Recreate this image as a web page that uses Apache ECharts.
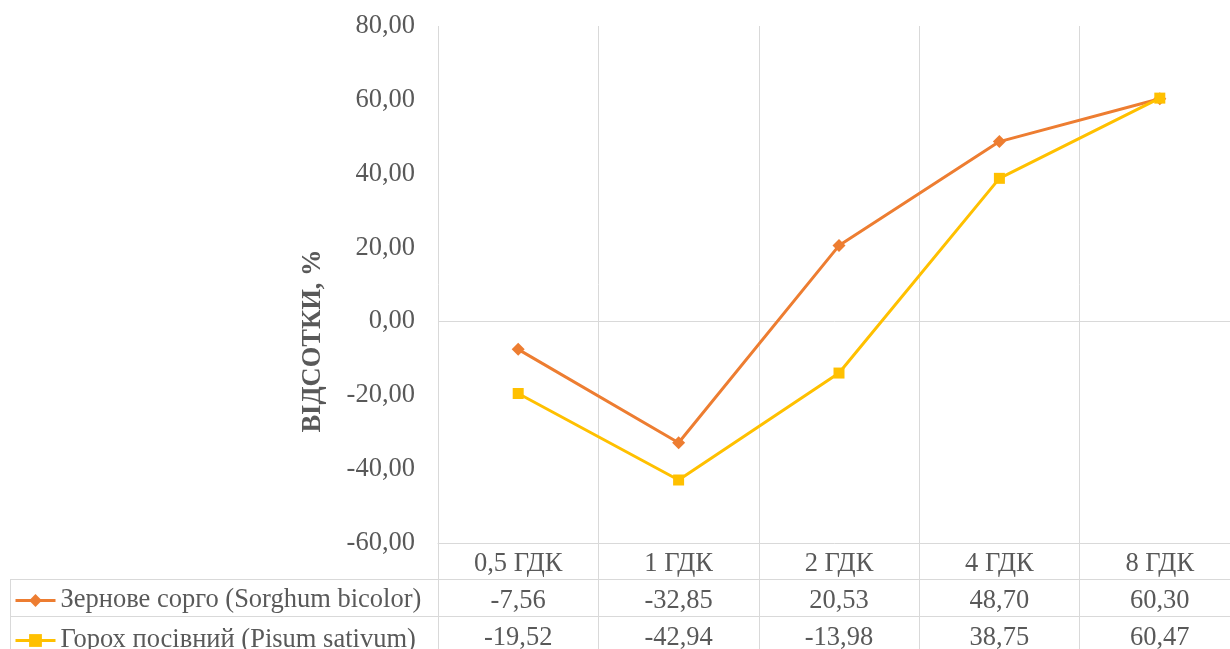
<!DOCTYPE html>
<html>
<head>
<meta charset="utf-8">
<script src="https://cdn.jsdelivr.net/npm/echarts@6/dist/echarts.min.js"></script>
<style>
html,body{margin:0;padding:0;background:#fff;}
#chart{width:1230px;height:649px;}
</style>
</head>
<body>
<div id="chart"></div>
<script>
const categories = ['0,5 ГДК', '1 ГДК', '2 ГДК', '4 ГДК', '8 ГДК'];
const sorghumName = 'Зернове сорго (Sorghum bicolor)';
const peaName = 'Горох посівний (Pisum sativum)';
const sorghumValues = [-7.56, -32.85, 20.53, 48.70, 60.30];
const peaValues = [-19.52, -42.94, -13.98, 38.75, 60.47];
const yAxisTitle = 'ВІДСОТКИ, %';

const FONT = '"Liberation Serif", "Times New Roman", serif';
const FS = 26.5;
const TXT = '#595959';
const GRID = '#D9D9D9';
const fmt = v => v.toFixed(2).replace('.', ',');

const chart = echarts.init(document.getElementById('chart'), null, {renderer: 'canvas'});
chart.setOption({
  animation: false,
  backgroundColor: '#fff',
  textStyle: {fontFamily: FONT},
  grid: [
    {left: 438, top: 26, width: 802, height: 517, containLabel: false, outerBoundsMode: 'none'},
    {left: 438, top: 543, width: 802, height: 120, containLabel: false, outerBoundsMode: 'none'}
  ],
  legend: {
    orient: 'vertical',
    left: 9,
    top: 582,
    height: 300,
    itemWidth: 40,
    itemHeight: 16,
    itemGap: 13,
    lineStyle: {width: 3},
    data: [sorghumName, peaName],
    textStyle: {fontFamily: FONT, fontSize: FS, color: TXT, lineHeight: 24}
  },
  xAxis: [
    {
      type: 'category',
      gridIndex: 0,
      data: categories,
      boundaryGap: true,
      axisLine: {show: false, onZero: false},
      axisTick: {show: false},
      splitLine: {show: true, lineStyle: {color: GRID, width: 1}},
      axisLabel: {
        interval: 0,
        margin: 3,
        fontFamily: FONT,
        fontSize: FS,
        color: TXT,
        lineHeight: 37,
        formatter: (val, idx) => val + '\n' + fmt(sorghumValues[idx]) + '\n' + fmt(peaValues[idx])
      }
    },
    {
      type: 'category',
      gridIndex: 1,
      position: 'top',
      data: categories,
      boundaryGap: true,
      axisLine: {show: true, onZero: false, lineStyle: {color: GRID, width: 1}},
      axisTick: {show: false},
      axisLabel: {show: false},
      splitLine: {show: true, interval: 0, lineStyle: {color: GRID, width: 1}}
    }
  ],
  yAxis: [
    {
      type: 'value',
      gridIndex: 0,
      min: -60,
      max: 80,
      interval: 20,
      axisLine: {show: false},
      axisTick: {show: false},
      splitLine: {show: false},
      axisLabel: {margin: 23, fontFamily: FONT, fontSize: FS, color: TXT, formatter: v => fmt(v)}
    },
    {
      type: 'value',
      gridIndex: 1,
      show: false,
      splitLine: {show: false}
    }
  ],
  graphic: [
    {type: 'line', silent: true, shape: {x1: 10, y1: 579.5, x2: 1230, y2: 579.5}, style: {stroke: GRID, lineWidth: 1}},
    {type: 'line', silent: true, shape: {x1: 10, y1: 616.5, x2: 1230, y2: 616.5}, style: {stroke: GRID, lineWidth: 1}},
    {type: 'line', silent: true, shape: {x1: 10.5, y1: 579, x2: 10.5, y2: 649}, style: {stroke: GRID, lineWidth: 1}},
    {type: 'text', silent: true, x: 313, y: 341, rotation: Math.PI / 2,
     style: {text: yAxisTitle, font: 'bold 26.5px ' + FONT, fill: TXT, textAlign: 'center', textVerticalAlign: 'middle'}}
  ],
  series: [
    {
      name: sorghumName,
      type: 'line',
      xAxisIndex: 0,
      yAxisIndex: 0,
      data: sorghumValues,
      symbol: 'diamond',
      symbolSize: 13,
      itemStyle: {color: '#ED7D31'},
      lineStyle: {color: '#ED7D31', width: 3},
      z: 3,
      markLine: {
        silent: true,
        symbol: 'none',
        label: {show: false},
        lineStyle: {color: GRID, width: 1, type: 'solid'},
        data: [{yAxis: 0}],
        z: 1
      }
    },
    {
      name: peaName,
      type: 'line',
      xAxisIndex: 0,
      yAxisIndex: 0,
      data: peaValues,
      symbol: 'rect',
      symbolSize: 11,
      itemStyle: {color: '#FFC000'},
      lineStyle: {color: '#FFC000', width: 3},
      z: 4
    }
  ]
});
</script>
</body>
</html>
